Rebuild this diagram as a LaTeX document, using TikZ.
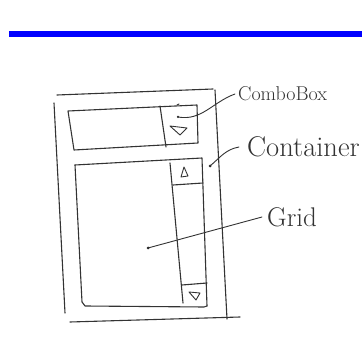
\documentclass[tikz,border=0pt]{standalone}
\begin{document}
\begin{tikzpicture}[x=1pt,y=-1pt,
  sk/.style={draw=black!80,line width=1.1pt,line cap=round,line join=round},
  lbl/.style={text=black!80,inner sep=0pt,anchor=west},
  dot/.style={circle,fill=black!85,inner sep=0pt,minimum size=3pt}]
\useasboundingbox (0,0) rectangle (362,342);
\fill[white] (0,0) rectangle (362,342);
% blue bar
\fill[blue] (9,31) rectangle (362,37);
% outer container
\draw[sk] (57,95) -- (213,89);
\draw[sk] (215,90) -- (227,319);
\draw[sk] (54,103) -- (65,313);
\draw[sk] (70,322) -- (240,317);
% combobox
\draw[sk] (68,111) -- (197,105) -- (198,143) -- (74,150) -- cycle;
\draw[sk] (160,106) -- (166,147);
\draw[sk] (177,105) -- (179,104);
\node[dot,minimum size=2.5pt] (cbdot) at (178,117) {};
\draw[sk,line width=0.9pt] (170,126) -- (187,128) -- (180,135) -- cycle;
% grid
\draw[sk] (75,165) -- (202,158) -- (207,306);
\draw[sk] (75,165) -- (82,302) -- (85,306) -- (204,307) -- (207,306);
\draw[sk] (170,163) -- (183,303);
\draw[sk] (173,185) -- (203,183);
\draw[sk] (182,285) -- (207,283);
\draw[sk,line width=0.9pt] (181,177) -- (184,167) -- (188,176) -- cycle;
\draw[sk,line width=0.9pt] (189,292) -- (200,293) -- (196,300) -- cycle;
\node[dot] (condot) at (210,166) {};
\node[dot] (griddot) at (148,248) {};
% labels
\node[lbl,font=\fontsize{20}{22}\selectfont] (combo) at (238,94) {ComboBox};
\node[lbl,font=\fontsize{28.5}{31}\selectfont] (cont) at (247,147) {Container};
\node[lbl,font=\fontsize{27}{30}\selectfont] (grid) at (267,217) {Grid};
% connectors
\draw[sk,line width=0.9pt] (cbdot.center) to[out=-10,in=200] ([xshift=-3pt]combo.west);
\draw[sk,line width=0.9pt] (condot.center) to[out=40,in=190] ([xshift=-8pt]cont.west);
\draw[sk,line width=0.9pt] (griddot.center) -- ([xshift=-5pt]grid.west);
\end{tikzpicture}
\end{document}
